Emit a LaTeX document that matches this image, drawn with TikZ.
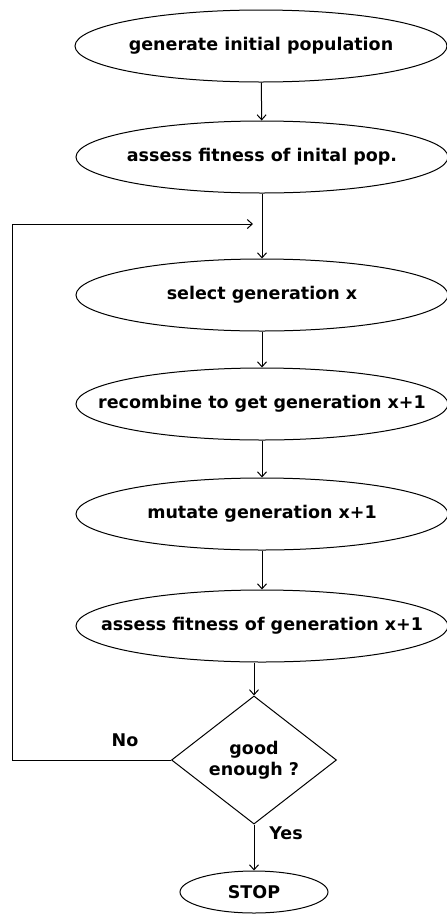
\documentclass[tikz,border=0pt]{standalone}
\usepackage{fontspec}
\setmainfont{DejaVu Sans}
\usetikzlibrary{shapes.geometric,arrows.meta}

\begin{document}
\begin{tikzpicture}[x=1pt,y=-1pt,line width=1pt,
  font=\fontsize{17.5}{21}\selectfont\bfseries,
  stage/.style={draw, ellipse, minimum width=372pt, minimum height=72pt, inner sep=0pt, inner xsep=-40pt},
  test/.style={draw, diamond, minimum width=165pt, minimum height=109pt, inner sep=0pt, align=center},
  flow/.style={-{Straight Barb[length=5pt,width=9pt]}}]
\useasboundingbox (0,0) rectangle (447,914);

% Stages
\node[stage] (init) at (261,46) {generate initial population};
\node[stage] (assess) at (262,157) {assess fitness of inital pop.};
\node[stage] (select) at (262,295) {select generation x};
\node[stage] (recomb) at (262,404) {recombine to get generation x+1};
\node[stage] (mutate) at (262,514) {mutate generation x+1};
\node[stage] (fitness) at (262,626) {assess fitness of generation x+1};

% Decision + end
\node[test] (good) at (254,760) {good\\enough ?};
\node[stage, minimum width=148pt, minimum height=42pt] (stop) at (254,892) {STOP};

% Arrows
\draw[flow] (init) -- (assess);
\draw[flow] (assess) -- (select);
\draw[flow] (select) -- (recomb);
\draw[flow] (recomb) -- (mutate);
\draw[flow] (mutate) -- (fitness);
\draw[flow] (good.north |- fitness.south) -- (good.north);
\draw[flow] (good) -- (stop);

% Loop back
\coordinate (back) at (253,224);
\draw[flow] (good.west) -- ++(-159,0) |- (back);

% Labels
\node (no) at (125,740) {No};
\node (yes) at (286,833) {Yes};

\end{tikzpicture}
\end{document}
